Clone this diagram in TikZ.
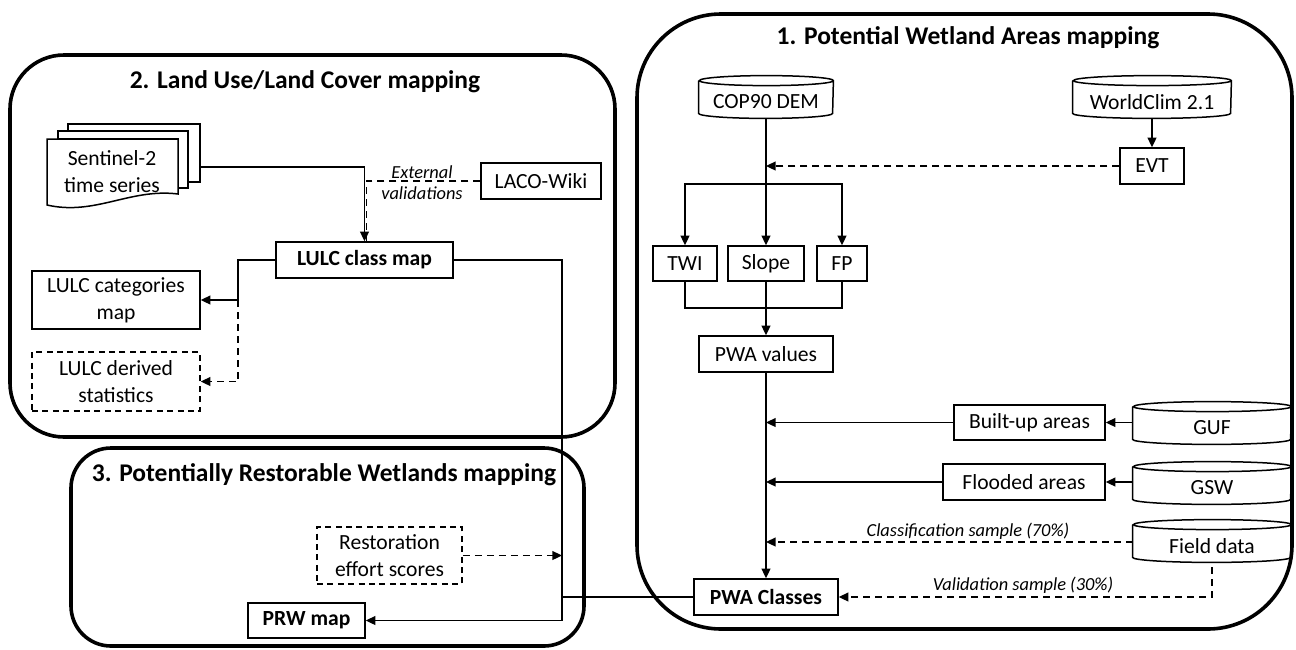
\documentclass[tikz,border=0pt]{standalone}
\usepackage{fontspec}
\setmainfont{Carlito}
\usetikzlibrary{arrows.meta,calc}
\begin{document}
\begin{tikzpicture}[x=0.5pt,y=-0.5pt,
  reg/.style={font=\fontsize{10.8}{13.5}\selectfont},
  bld/.style={font=\fontsize{10.8}{13.5}\selectfont\bfseries},
  ttl/.style={font=\fontsize{12.75}{15}\selectfont\bfseries, inner sep=0},
  lbl/.style={font=\fontsize{9.2}{11}\selectfont\itshape, inner sep=0},
  box/.style={draw, line width=0.75pt, fill=white, inner sep=0, align=center, reg},
  bbox/.style={box, bld},
  dbox/.style={box, dash pattern=on 3pt off 2.2pt},
  cyl/.style={inner sep=0, align=center, reg, minimum height=16pt},
  frame/.style={line width=1.8pt},
  ln/.style={line width=0.8pt},
  arr/.style={ln, -{Triangle[length=4.8pt,width=4.4pt]}},
  dsh/.style={ln, dash pattern=on 3.5pt off 2.5pt},
  dsharr/.style={dsh, -{Triangle[length=4.8pt,width=4.4pt]}},
]
\useasboundingbox (0,0) rectangle (1296,649);

% frames
\draw[frame, rounded corners=27pt] (10,55) rectangle (615,437);
\draw[frame, rounded corners=42pt] (637,14) rectangle (1292,629);
\draw[frame, rounded corners=20pt] (71,448) rectangle (584,646);

% titles
\node[ttl] (t2) at (305,82) {2. Land Use/Land Cover mapping};
\node[ttl] (t1) at (968,38) {1. Potential Wetland Areas mapping};
\node[ttl] (t3) at (324,475) {3. Potentially Restorable Wetlands mapping};

% Sentinel-2 multi document
\draw[line width=0.75pt, fill=white] (68,131) -- (68,124) -- (200,124) -- (200,182) -- (188,182) -- (188,131) -- cycle;
\draw[line width=0.75pt, fill=white] (58,139) -- (58,131) -- (188,131) -- (188,188) -- (178,188) -- (178,139) -- cycle;
\draw[line width=0.75pt, fill=white] (47,139) -- (178,139) -- (178,194) .. controls (130,188) and (95,216) .. (47,205) -- cycle;
\node[reg, align=center, inner sep=0] (sent) at (112,172) {Sentinel-2\\time series};
\coordinate (sentR) at (200,167);

% nodes box 2
\node[box, minimum width=60pt, minimum height=18pt] (laco) at (541,181) {LACO-Wiki};
\node[bbox, minimum width=88.5pt, minimum height=18pt] (lulc) at (364.5,260) {LULC class map};
\node[box, minimum width=84pt, minimum height=29pt] (cat) at (116,300) {LULC categories\\map};
\node[dbox, minimum width=84pt, minimum height=29.5pt] (der) at (116,381.5) {LULC derived\\statistics};

% nodes box 1
\node[cyl, minimum width=67pt] (cop) at (766,102) {COP90 DEM};
\node[cyl, minimum width=79pt] (wc) at (1152,102) {WorldClim 2.1};
\node[box, minimum width=32pt, minimum height=18pt] (evt) at (1152,166) {EVT};
\node[box, minimum width=32pt, minimum height=17.5pt] (twi) at (685,263.5) {TWI};
\node[box, minimum width=38pt, minimum height=17.5pt] (slope) at (766,263.5) {Slope};
\node[box, minimum width=25pt, minimum height=17.5pt] (fp) at (842,263.5) {FP};
\node[box, minimum width=67pt, minimum height=18pt] (pwav) at (766,354) {PWA values};
\node[box, minimum width=75.5pt, minimum height=17.5pt] (bu) at (1029.5,422.5) {Built-up areas};
\node[box, minimum width=81pt, minimum height=18pt] (fl) at (1024,482) {Flooded areas};
\node[cyl, minimum width=79pt] (guf) at (1212,428) {GUF};
\node[cyl, minimum width=79pt] (gsw) at (1212,488) {GSW};
\node[cyl, minimum width=79pt] (fd) at (1212,546) {Field data};
\node[bbox, minimum width=72pt, minimum height=18pt] (pwac) at (766,597) {PWA Classes};

% nodes box 3
\node[dbox, minimum width=72.5pt, minimum height=28.5pt] (rest) at (389.5,555.5) {Restoration\\effort scores};
\node[bbox, minimum width=58.5pt, minimum height=17.5pt] (prw) at (306.5,620.5) {PRW map};

% cylinders
\foreach \c/\r in {cop/33.5,wc/39.5,guf/39.5,gsw/39.5,fd/39.5}{
  \draw[line width=0.75pt] ([yshift=2.5pt]\c.north west) -- ([yshift=2.5pt]\c.south west)
    arc[start angle=180,end angle=360,x radius=\r pt,y radius=2.5pt]
    -- ([yshift=2.5pt]\c.north east)
    arc[start angle=0,end angle=180,x radius=\r pt,y radius=2.5pt]
    arc[start angle=180,end angle=360,x radius=\r pt,y radius=2.5pt];
}

% connectors box 2
\coordinate (j1) at (238,260);
\coordinate (j2) at (562,260);
\draw[arr] (sentR) -| (lulc.north);
\draw[dsh] (laco.west) -| ([xshift=1pt]lulc.north);
\node[lbl] (ext) at (422,172) {External};
\node[lbl] (val) at (422,193) {validations};
\draw[arr] (lulc.west) -- (j1) |- (cat.east);
\draw[dsharr] (cat.east -| j1) |- (der.east);
\draw[arr] (lulc.east) -- (j2) |- (prw.east);
\draw[ln] (pwac.west) -- (pwac.west -| j2);
\draw[dsharr] (rest.east) -- (rest.east -| j2);

% connectors box 1
\coordinate (j3) at (766,184);
\coordinate (j4) at (766,308);
\draw[arr] (cop.south) -- (slope.north);
\draw[arr] (j3) -| (twi.north);
\draw[arr] (j3) -| (fp.north);
\draw[arr] (wc.south) -- (evt.north);
\draw[dsharr] (evt.west) -- (evt.west -| cop.south);
\draw[ln] (twi.south) |- (j4) -| (fp.south);
\draw[arr] (slope.south) -- (pwav.north);
\draw[arr] (pwav.south) -- (pwac.north);
\draw[arr] (bu.west) -- (bu.west -| pwav.south);
\draw[arr] (fl.west) -- (fl.west -| pwav.south);
\draw[arr] (bu.east -| guf.west) -- (bu.east);
\draw[arr] (fl.east -| gsw.west) -- (fl.east);
\draw[dsharr] ([yshift=2pt]fd.west) -- ([yshift=2pt]fd.west -| pwav.south);
\node[lbl] (cls) at (968,531) {Classification sample (70\%)};
\draw[dsharr] ([yshift=-2.5pt]fd.south) |- (pwac.east);
\node[lbl] (vls) at (1023,585) {Validation sample (30\%)};
\end{tikzpicture}
\end{document}
